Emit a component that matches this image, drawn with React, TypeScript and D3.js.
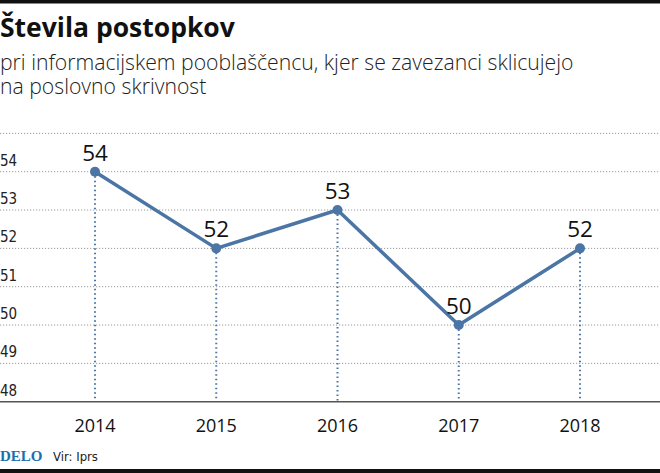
import React from "react";
import * as d3 from "d3";

const years = ["2014", "2015", "2016", "2017", "2018"];
const values = [54, 52, 53, 50, 52];
const yTicks = [48, 49, 50, 51, 52, 53, 54];
const gridValues = [49, 50, 51, 52, 53, 54, 55];
const title = "Števila postopkov";
const subtitle1 = "pri informacijskem pooblaščencu, kjer se zavezanci sklicujejo";
const subtitle2 = "na poslovno skrivnost";
const source = "Vir: Iprs";
const brand = "DELO";

const W = 660;
const H = 473;
const BLUE = "#4a75a5";

export default function App() {
  const x = d3.scalePoint<string>().domain(years).range([95, 580]);
  const y = d3.scaleLinear().domain([48, 54]).range([401.7, 171.7]);
  const line = d3
    .line<number>()
    .x((_, i) => x(years[i]) as number)
    .y((d) => y(d));

  return (
    <svg
      width={W}
      height={H}
      style={{ position: "absolute", left: 0, top: 0, background: "#fff" }}
      fontFamily="'Open Sans', sans-serif"
    >
      <rect x={0} y={0} width={W} height={3.5} fill="#111" />
      <rect x={0} y={469} width={W} height={4} fill="#111" />
      <text x={0} y={37} fontSize={26.5} fontWeight={700} fill="#111">
        {title}
      </text>
      <text x={0} y={70} fontSize={21.2} fontWeight={300} fill="#222">
        {subtitle1}
      </text>
      <text x={0} y={94} fontSize={21.2} fontWeight={300} fill="#222">
        {subtitle2}
      </text>

      {gridValues.map((g) => (
        <line
          key={"g" + g}
          x1={0}
          x2={W}
          y1={y(g)}
          y2={y(g)}
          stroke="#9a9a9a"
          strokeWidth={1}
          strokeDasharray="1.2,1.8"
        />
      ))}
      {yTicks.map((t) => (
        <text
          key={"t" + t}
          x={0}
          y={y(t) - 6}
          fontSize={15}
          fontFamily="'Liberation Sans Narrow', 'DejaVu Sans Condensed', sans-serif"
          fill="#222"
        >
          {t}
        </text>
      ))}

      {values.map((v, i) => (
        <line
          key={"d" + i}
          x1={x(years[i])}
          x2={x(years[i])}
          y1={y(v)}
          y2={y(48)}
          stroke={BLUE}
          strokeWidth={2}
          strokeDasharray="1.5,3"
        />
      ))}
      <line x1={0} x2={W} y1={y(48)} y2={y(48)} stroke="#555" strokeWidth={1.5} />

      <path d={line(values) || ""} fill="none" stroke={BLUE} strokeWidth={3.5} strokeLinejoin="round" />
      {values.map((v, i) => (
        <circle key={"c" + i} cx={x(years[i])} cy={y(v)} r={5} fill={BLUE} />
      ))}
      {values.map((v, i) => (
        <text
          key={"l" + i}
          x={x(years[i])}
          y={y(v) - 11}
          fontSize={22.5}
          textAnchor="middle"
          fill="#111"
        >
          {v}
        </text>
      ))}

      {years.map((yr) => (
        <text key={"x" + yr} x={x(yr)} y={432} fontSize={18} textAnchor="middle" fill="#111">
          {yr}
        </text>
      ))}

      <text
        x={0}
        y={461}
        fontSize={15}
        fontWeight={700}
        fontFamily="'Liberation Serif', serif"
        fill="#1a6fb0"
      >
        {brand}
      </text>
      <text
        x={53}
        y={461}
        fontSize={13}
        fontFamily="'Liberation Sans Narrow', 'DejaVu Sans Condensed', sans-serif"
        fill="#222"
      >
        {source}
      </text>
    </svg>
  );
}
